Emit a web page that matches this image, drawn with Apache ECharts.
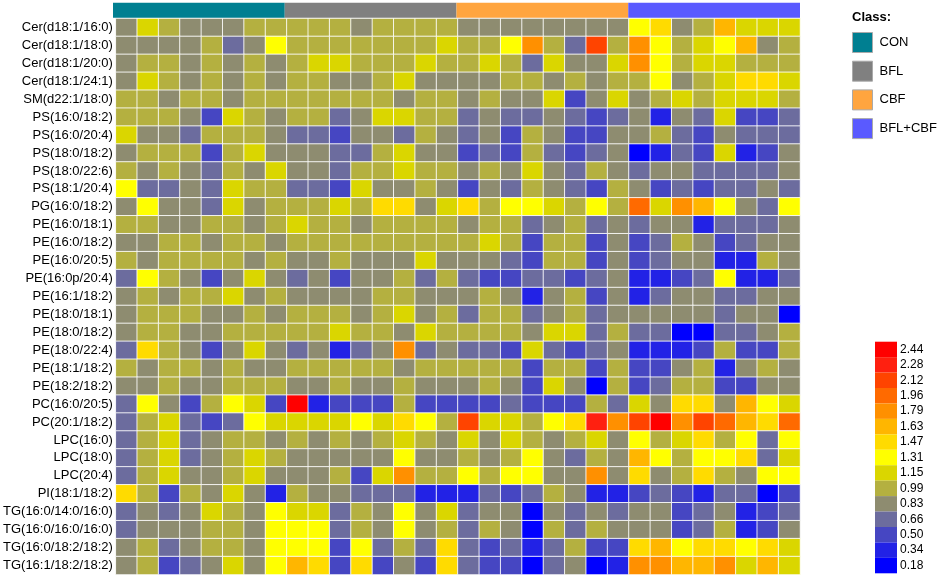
<!DOCTYPE html>
<html>
<head>
<meta charset="utf-8">
<script src="https://cdn.jsdelivr.net/npm/echarts@6/dist/echarts.min.js"></script>
<style>html,body{margin:0;padding:0;background:#fff}#c{width:941px;height:576px}</style>
</head>
<body>
<div id="c"></div>
<script>
const rowLabels = ["Cer(d18:1/16:0)","Cer(d18:1/18:0)","Cer(d18:1/20:0)","Cer(d18:1/24:1)","SM(d22:1/18:0)","PS(16:0/18:2)","PS(16:0/20:4)","PS(18:0/18:2)","PS(18:0/22:6)","PS(18:1/20:4)","PG(16:0/18:2)","PE(16:0/18:1)","PE(16:0/18:2)","PE(16:0/20:5)","PE(16:0p/20:4)","PE(16:1/18:2)","PE(18:0/18:1)","PE(18:0/18:2)","PE(18:0/22:4)","PE(18:1/18:2)","PE(18:2/18:2)","PC(16:0/20:5)","PC(20:1/18:2)","LPC(16:0)","LPC(18:0)","LPC(20:4)","PI(18:1/18:2)","TG(16:0/14:0/16:0)","TG(16:0/16:0/16:0)","TG(16:0/18:2/18:2)","TG(16:1/18:2/18:2)"];
const classNames = ["CON","BFL","CBF","BFL+CBF"];
const samplesPerClass = 8;
const classColors = ["#007f91","#808080","#ffa53f","#5a5aff"];
const scaleTicks = [0.18,0.34,0.50,0.66,0.83,0.99,1.15,1.31,1.47,1.63,1.79,1.96,2.12,2.28,2.44];
const scaleColors = ["#0000ff","#2222e6","#4646c2","#6c6c9e","#8e8c70","#b4b040","#dad600","#ffff00","#ffdb00","#ffb600","#ff9000","#ff6a00","#ff4400","#ff2010","#ff0000"];
const values = [
[.83,1.15,.99,.83,.83,.83,.99,.99, .99,.99,.99,.83,.99,.99,.99,.99, .83,.83,.83,.83,.83,.83,.83,.83, 1.31,1.47,.83,.99,1.63,1.15,1.15,1.15],
[.83,.83,.83,.83,.99,.66,.83,1.31, .99,.99,.99,.99,.99,.99,.99,1.15, .99,.99,1.31,1.79,.99,.66,2.12,.99, 1.79,1.31,.99,1.15,1.31,1.63,.83,.99],
[.83,.99,.99,.83,.99,.83,.99,.83, .99,1.15,1.15,.99,.99,.99,1.15,.99, .99,1.15,.99,.66,1.15,.83,.83,1.15, 1.79,1.31,.99,1.15,1.15,.99,.99,.99],
[.83,1.15,.99,.83,.99,.83,.99,.83, .99,.99,.83,.83,.99,1.15,.83,.83, .83,.83,.99,.99,.83,.99,.83,.99, .99,1.31,.83,.99,1.15,1.47,1.47,1.15],
[.99,.99,.83,.99,.99,.83,.99,.99, .99,.99,.99,.99,.99,.83,.99,.99, .83,.99,.83,.83,1.15,.50,.83,1.15, .83,.99,1.15,.99,1.15,1.15,1.15,.99],
[.99,.99,.99,.83,.50,1.15,.99,.83, .99,.99,.66,.83,1.15,1.15,.99,.99, .66,.83,.66,.66,.83,.66,.50,.66, .83,.34,.83,.66,1.15,.50,.50,.66],
[1.15,.83,.83,.66,.99,.99,.99,.83, .66,.66,.50,.83,.83,.66,.99,.83, .66,.83,.50,.99,.83,.50,.50,.83, .83,.99,.66,.50,.83,.66,.66,.66],
[.83,.99,.99,.99,.50,.99,1.15,.83, .83,.83,.66,.66,.99,1.15,.83,.83, .50,.66,.50,.99,.66,.50,.66,.83, .18,.34,.66,.50,1.15,.34,.50,.83],
[.99,.83,.99,.83,.66,.99,.83,1.15, .83,.83,.66,.99,.99,1.15,.99,.99, .83,.99,.83,1.15,.83,.66,.99,.83, .66,.83,.83,.66,.66,.66,.66,.83],
[1.31,.66,.66,.83,.66,1.15,.99,.99, .66,.66,.50,1.15,.83,.83,.99,.83, .50,.83,.66,.99,.83,.66,.50,.99, .83,.50,.66,.50,.66,.66,.83,.66],
[.83,1.31,.83,.83,.66,1.15,.83,.99, .99,.99,1.15,.99,1.47,1.47,.83,1.15, 1.47,.99,1.31,1.31,1.15,.99,1.31,.99, 1.96,1.15,1.79,1.63,1.31,.83,.66,1.31],
[.99,.99,.83,.83,.99,.99,.83,.99, 1.15,.99,.99,.83,.99,.99,.99,.99, .83,.99,.99,.66,.83,.99,.66,.83, .66,.83,.83,.34,.66,.66,.66,.83],
[.83,.83,.99,.99,.83,.99,.99,.83, .99,.99,.99,.99,.99,.99,.99,.99, .99,1.15,.99,.50,.99,.99,.50,.83, .50,.66,.99,.83,.50,.66,.83,.83],
[.99,.83,.99,.99,.99,.99,.83,.99, .83,.83,.99,.83,.83,.83,1.15,.83, .83,.83,.66,.50,.99,.99,.50,.83, .50,.66,.83,.83,.34,.34,.99,.83],
[.66,1.31,.99,.83,.50,.83,1.15,.83, .66,.83,.50,.83,.83,.99,.66,.99, .66,.50,.50,.66,.66,.50,.66,.83, .34,.34,.50,.66,1.31,.34,.34,.66],
[.83,.99,.83,.99,.99,1.15,.83,.99, .83,.83,.83,.83,.99,.99,.83,.83, .83,.99,.83,.34,.83,.99,.50,.83, .34,.66,.83,.83,.66,.66,.83,.83],
[.83,.99,.99,.99,.83,.83,.99,.83, .99,.99,.99,.83,.99,1.15,.83,.99, .66,.99,.99,.66,.83,.99,.66,.83, .83,.83,.83,.83,.66,.83,.83,.18],
[.83,.99,.99,.83,.83,.99,.99,.99, .99,.99,1.15,.99,.99,.83,1.15,.99, .99,.99,.99,.83,1.15,1.15,.66,.99, .66,.66,.18,.18,.66,.66,.83,.99],
[.66,1.47,.99,.83,.50,.83,1.15,.83, .66,.83,.34,.66,.83,1.79,.66,.83, .66,.66,.50,1.15,.66,.50,.66,.83, .34,.34,.34,.50,.99,.50,.50,.99],
[.99,.83,.99,.99,.83,.99,.83,.83, .99,.99,.99,.99,.99,.83,.99,.99, .99,.99,.99,.50,.99,.99,.50,.99, .50,.50,.83,.99,.34,.83,.99,.83],
[.83,.83,.99,.83,.83,.99,.99,.99, .83,.83,.99,.83,.83,.99,.83,.83, .83,.99,.83,.50,1.15,.83,.18,.99, .50,.66,.99,.99,.50,.50,.83,.83],
[.66,1.31,.83,.50,.99,1.31,1.15,.50, 2.44,.34,.50,.50,.50,.99,.50,.50, .50,.50,.66,.50,.50,.50,.99,.66, 1.15,.83,1.47,1.47,.83,1.63,1.31,1.15],
[.66,.99,1.15,.66,.50,.66,1.31,1.15, 1.15,1.15,1.15,1.31,1.15,1.47,1.31,.99, 2.12,1.15,1.15,.99,1.31,1.47,2.28,1.79, 2.12,2.44,1.79,2.12,1.96,1.63,1.47,1.96],
[.66,.99,1.15,.66,.83,.99,.99,.83, .99,.83,.99,.83,.99,1.15,.99,.83, 1.15,.83,1.15,.99,.83,.99,1.15,.83, 1.31,.99,1.15,1.47,.99,1.31,.66,1.31],
[.66,.99,1.15,.66,.83,.99,1.15,.99, .83,.83,.83,.83,.83,1.31,.83,.83, .99,.83,.99,1.31,.83,.66,.99,.83, 1.63,1.31,.99,1.31,1.31,1.47,.66,1.15],
[.66,.99,1.15,.83,.83,.99,1.15,.83, .83,.83,.99,.50,1.15,1.79,.99,.99, 1.31,.99,1.31,1.31,.83,.83,1.79,.83, 1.47,.83,.99,1.47,.99,.83,1.31,1.31],
[1.47,.99,.50,.99,.83,1.15,.83,.34, .99,.83,.83,.66,.66,.66,.34,.34, .34,.66,.50,.66,.99,.83,.34,.34, .50,.66,.50,.34,.66,.66,.18,.50],
[.66,.83,.66,.83,1.15,.99,.83,1.31, 1.15,1.15,.66,.99,.83,1.31,.83,1.15, .66,.83,.83,.18,.83,.66,.83,.66, .83,.83,.50,.66,.83,.34,.50,.66],
[.66,.83,.83,.83,.99,.99,.83,1.31, 1.31,1.31,.66,.99,.83,1.31,.83,.99, .66,.99,.83,.18,.99,.66,.99,.83, .83,.83,.50,.66,.99,.34,.50,.83],
[.83,.99,.66,.83,.99,.99,.83,1.31, 1.31,1.31,.50,1.31,.66,.99,.66,1.47, .66,.50,.66,.34,.66,.99,.50,.50, 1.47,1.63,1.31,1.47,1.47,1.31,1.47,1.15],
[.83,.99,.50,.66,.83,1.15,.83,1.31, 1.63,1.47,.50,1.47,.50,.83,.50,1.47, .66,.50,.50,.18,.66,.83,.18,.34, 1.79,1.79,1.63,1.63,1.79,1.15,1.63,1.15]
];

const nCols = classNames.length * samplesPerClass;
const colLabels = [];
for (let c = 0; c < nCols; c++) colLabels.push('S' + (c + 1));
const heatData = [];
values.forEach((row, r) => row.forEach((v, c) => heatData.push([c, r, v])));

const pieces = scaleTicks.map((t, i) => ({
  min: i === 0 ? -10 : (scaleTicks[i - 1] + t) / 2,
  max: i === scaleTicks.length - 1 ? 10 : (t + scaleTicks[i + 1]) / 2,
  label: t.toFixed(2),
  color: scaleColors[i]
}));

const FONT = "'Liberation Sans', Arial, sans-serif";
const classSeries = classNames.map((name, k) => ({
  name: name,
  type: 'bar',
  xAxisIndex: 1, yAxisIndex: 1,
  barWidth: '100%', barGap: '-100%',
  itemStyle: { color: classColors[k] },
  data: classNames.map((_, j) => j === k ? 1 : '-'),
  silent: true
}));

const chart = echarts.init(document.getElementById('c'), null, { renderer: 'canvas' });
chart.setOption({
  animation: false,
  textStyle: { fontFamily: FONT },
  title: { text: 'Class:', left: 852, top: 11, padding: 0, textStyle: { fontSize: 13, fontWeight: 'bold', color: '#000', fontFamily: FONT } },
  legend: {
    data: classNames, orient: 'vertical', left: 852, top: 32, padding: 0,
    itemWidth: 20, itemHeight: 20, itemGap: 7.7, icon: 'rect',
    itemStyle: { borderColor: '#aaaaaa', borderWidth: 1 },
    textStyle: { fontSize: 13, color: '#000', fontFamily: FONT, padding: [0, 0, 0, 2] },
    selectedMode: false
  },
  grid: [
    { left: 113, top: 18.5, width: 687, height: 556 },
    { left: 113, top: 2.7, width: 687, height: 15 }
  ],
  xAxis: [
    { type: 'category', data: colLabels, gridIndex: 0, axisLine: { show: false }, axisTick: { show: false }, axisLabel: { show: false }, splitLine: { show: false } },
    { type: 'category', data: classNames, gridIndex: 1, show: false }
  ],
  yAxis: [
    { type: 'category', data: rowLabels, gridIndex: 0, inverse: true, axisLine: { show: false }, axisTick: { show: false },
      axisLabel: { fontSize: 13, color: '#000', margin: 3, fontFamily: FONT } },
    { type: 'value', gridIndex: 1, min: 0, max: 1, show: false }
  ],
  visualMap: {
    type: 'piecewise', seriesIndex: 0, pieces: pieces,
    orient: 'vertical', left: 875, top: 341.7, padding: 0, align: 'left',
    itemWidth: 22, itemHeight: 15.44, itemGap: 0, itemSymbol: 'rect',
    textGap: 3, selectedMode: false, hoverLink: false,
    textStyle: { fontSize: 12, color: '#000', fontFamily: FONT }
  },
  series: [{
    type: 'heatmap', data: heatData, xAxisIndex: 0, yAxisIndex: 0,
    itemStyle: { borderColor: 'rgba(255,255,255,0.85)', borderWidth: 1 },
    emphasis: { disabled: true }
  }].concat(classSeries)
});
</script>
</body>
</html>
